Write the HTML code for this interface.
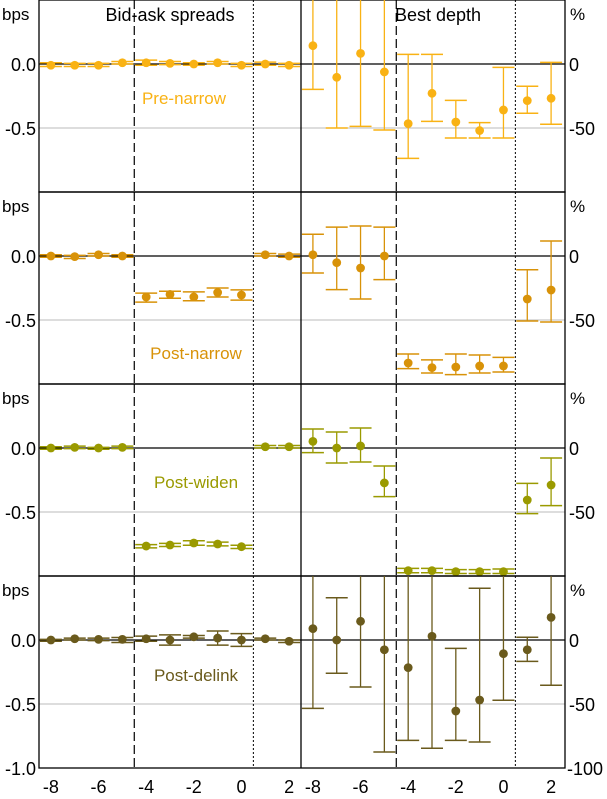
<!DOCTYPE html>
<html><head><meta charset="utf-8"><style>
html,body{margin:0;padding:0;background:#fff;}
svg{display:block;font-family:"Liberation Sans",Arial,sans-serif;}
</style></head><body>
<svg id="chart" width="607" height="799" viewBox="0 0 607 799" xmlns="http://www.w3.org/2000/svg"></svg>
<script>
// ---- data ----
const xCats = [-8,-7,-6,-5,-4,-3,-2,-1,0,1,2];
const panelNames = ["Pre-narrow","Post-narrow","Post-widen","Post-delink"];
const panelColors = ["#F9B214","#D89208","#9A9A00","#6A5A1C"];
// Bid-ask spreads (bps)
const spreadVal = [
 [-0.01,-0.01,-0.01,0.01,0.01,0.005,0,0.01,-0.01,0,-0.01],
 [0,-0.005,0.01,0,-0.32,-0.30,-0.32,-0.285,-0.305,0.01,0],
 [0,0.005,0,0.005,-0.766,-0.758,-0.742,-0.75,-0.771,0.01,0.01],
 [0,0.01,0.005,0.005,0.01,0,0.025,0.015,0,0.01,-0.01]];
const spreadHi = [
 [0.01,0.005,0.005,0.02,0.03,0.02,0.01,0.02,0.005,0.015,0.005],
 [0.01,0.005,0.02,0.01,-0.29,-0.275,-0.28,-0.25,-0.265,0.02,0.015],
 [0.01,0.015,0.005,0.015,-0.755,-0.745,-0.725,-0.735,-0.76,0.02,0.02],
 [0.005,0.015,0.015,0.02,0.03,0.04,0.035,0.07,0.05,0.015,0]];
const spreadLo = [
 [-0.02,-0.02,-0.02,0,-0.01,-0.005,-0.01,0,-0.02,-0.01,-0.02],
 [-0.01,-0.02,0,-0.01,-0.36,-0.33,-0.35,-0.32,-0.345,0,-0.01],
 [-0.01,-0.005,-0.01,-0.005,-0.78,-0.77,-0.76,-0.765,-0.785,0,0],
 [-0.01,0,-0.005,-0.02,-0.01,-0.04,0.015,-0.04,-0.05,0,-0.02]];
// Best depth (%)
const depthVal = [
 [14.3,-10.4,8.3,-6.2,-46.6,-22.9,-45.3,-52,-35.9,-28.6,-26.8],
 [1,-5.2,-9.4,0,-83.6,-87.2,-86.7,-85.9,-85.9,-33.6,-26.6],
 [5.2,0,1.6,-27.3,-95.8,-95.8,-96.6,-96.6,-96.6,-40.6,-28.9],
 [8.9,0,14.6,-7.6,-21.6,2.9,-55.5,-46.9,-10.7,-7.6,17.7]];
const depthHi = [
 [70,70,70,70,7.5,7.5,-28.4,-45.8,-2.6,-17.4,1.3],
 [17,22.6,23.4,22.6,-76.6,-81.2,-76.6,-77.3,-79.2,-10.7,11.7],
 [14.8,12.5,15.6,-14.1,-94,-94,-95,-95,-94.5,-27.6,-7.8],
 [70,33,70,70,70,70,-6.5,40.4,70,2.1,70]];
const depthLo = [
 [-19.8,-50,-48.7,-51.6,-73.7,-44.8,-57.8,-57.8,-57.8,-38.5,-47.1],
 [-13.3,-26.3,-33.6,-18.5,-88,-91.4,-92.7,-91.4,-90.6,-50.8,-51.6],
 [-3.6,-11.7,-10.9,-38,-97.5,-97.5,-98,-98,-98,-51.3,-45],
 [-53.4,-26,-36.7,-87.5,-78.4,-84.6,-78.4,-79.7,-47.1,-16.7,-35.4]];
const xTicks = [-8,-6,-4,-2,0,2];
const leftTickVals = [0,-0.5];
const leftTickText = ["0.0","-0.5"];
const rightTickText = ["0","-50"];

// ---- layout ----
const NS="http://www.w3.org/2000/svg";
const svg=document.getElementById('chart');
const L=39, MID=301, R=565, TOP=0, PH=192;
const unit=(MID-L)/11;
function xs(v,side){ return (side===0?L:MID) + (v+8.5)*unit; }
function yb(v,p){ return TOP+p*PH+64 - v*128; }      // bps
function yp(v,p){ return yb(v/100,p); }               // %
function mk(tag,attrs,parent){const e=document.createElementNS(NS,tag);for(const k in attrs)e.setAttribute(k,attrs[k]);(parent||svg).appendChild(e);return e;}
const defs=mk('defs',{});
for(let p=0;p<4;p++){
  const cp=mk('clipPath',{id:'clip'+p},defs);
  mk('rect',{x:L,y:TOP+p*PH,width:R-L,height:PH},cp);
}
const FS=18;
for(let p=0;p<4;p++){
  const y0=TOP+p*PH;
  const g=mk('line',{x1:L,x2:R,y1:yb(-0.5,p),y2:yb(-0.5,p),stroke:'#bbb','stroke-width':1});
  
  
  const z=mk('line',{x1:L,x2:R,y1:yb(0,p),y2:yb(0,p),stroke:'#000','stroke-width':1.2});
  
  
  for(let s=0;s<2;s++){
    const d=mk('line',{x1:xs(-4.5,s),x2:xs(-4.5,s),y1:y0,y2:y0+PH,stroke:'#000','stroke-width':1.2,'stroke-dasharray':'9,4'});
    
    
    const o=mk('line',{x1:xs(0.5,s),x2:xs(0.5,s),y1:y0,y2:y0+PH,stroke:'#000','stroke-width':1,'stroke-dasharray':'2,2'});
    
    
  }
  const frame=mk('rect',{x:L,y:y0,width:R-L,height:PH,fill:'none',stroke:'#000','stroke-width':1.3});
  
  
  const bps=mk('text',{x:2,y:y0+20,'font-size':17,fill:'#000'}); bps.textContent='bps';
  
  
  const pc=mk('text',{x:570,y:y0+20,'font-size':17,fill:'#000'}); pc.textContent='%';
  
  
  for(let i=0;i<leftTickVals.length;i++){
    const t=mk('text',{x:36,y:yb(leftTickVals[i],p)+7,'font-size':FS,'text-anchor':'end',fill:'#000'}); t.textContent=leftTickText[i];
    
    
    const r=mk('text',{x:569,y:yb(leftTickVals[i],p)+7,'font-size':FS,fill:'#000'}); r.textContent=rightTickText[i];
    
    
  }
  const lbl=mk('text',{x:p===0?184:196,y:[104,359,488,681][p],'font-size':17,'text-anchor':'middle',fill:panelColors[p]});
  lbl.textContent=panelNames[p];
  
  
  const grp=mk('g',{'clip-path':'url(#clip'+p+')'});
  const col=panelColors[p];
  for(let s=0;s<2;s++){
    for(let i=0;i<xCats.length;i++){
      const cx=xs(xCats[i],s);
      const yf=s===0?(v=>yb(v,p)):(v=>yp(v,p));
      const v=s===0?spreadVal[p][i]:depthVal[p][i];
      const hi=s===0?spreadHi[p][i]:depthHi[p][i];
      const lo=s===0?spreadLo[p][i]:depthLo[p][i];
      const eg=mk('g',{},grp);
      
      
      mk('line',{x1:cx,x2:cx,y1:yf(hi),y2:yf(lo),stroke:col,'stroke-width':1.3},eg);
      mk('line',{x1:cx-11,x2:cx+11,y1:yf(hi),y2:yf(hi),stroke:col,'stroke-width':1.5},eg);
      mk('line',{x1:cx-11,x2:cx+11,y1:yf(lo),y2:yf(lo),stroke:col,'stroke-width':1.5},eg);
      const c=mk('circle',{cx:cx,cy:yf(v),r:4.4,fill:col},grp);
      
      
    }
  }
}
const dv=mk('line',{x1:MID,x2:MID,y1:0,y2:4*PH,stroke:'#000','stroke-width':1.3});


const b1=mk('text',{x:36,y:yb(-1,3)+7,'font-size':FS,'text-anchor':'end',fill:'#000'}); b1.textContent='-1.0';


const b2=mk('text',{x:567,y:yb(-1,3)+7,'font-size':FS,fill:'#000'}); b2.textContent='-100';


for(let s=0;s<2;s++){
  for(const t of xTicks){
    const tx=mk('text',{x:xs(t,s),y:793,'font-size':FS,'text-anchor':'middle',fill:'#000'}); tx.textContent=String(t);
    
    
  }
}
const t1=mk('text',{x:170,y:21,'font-size':18,'text-anchor':'middle',fill:'#000'}); t1.textContent='Bid-ask spreads';


const t2=mk('text',{x:438,y:21,'font-size':18,'text-anchor':'middle',fill:'#000'}); t2.textContent='Best depth';


</script>
</body></html>
